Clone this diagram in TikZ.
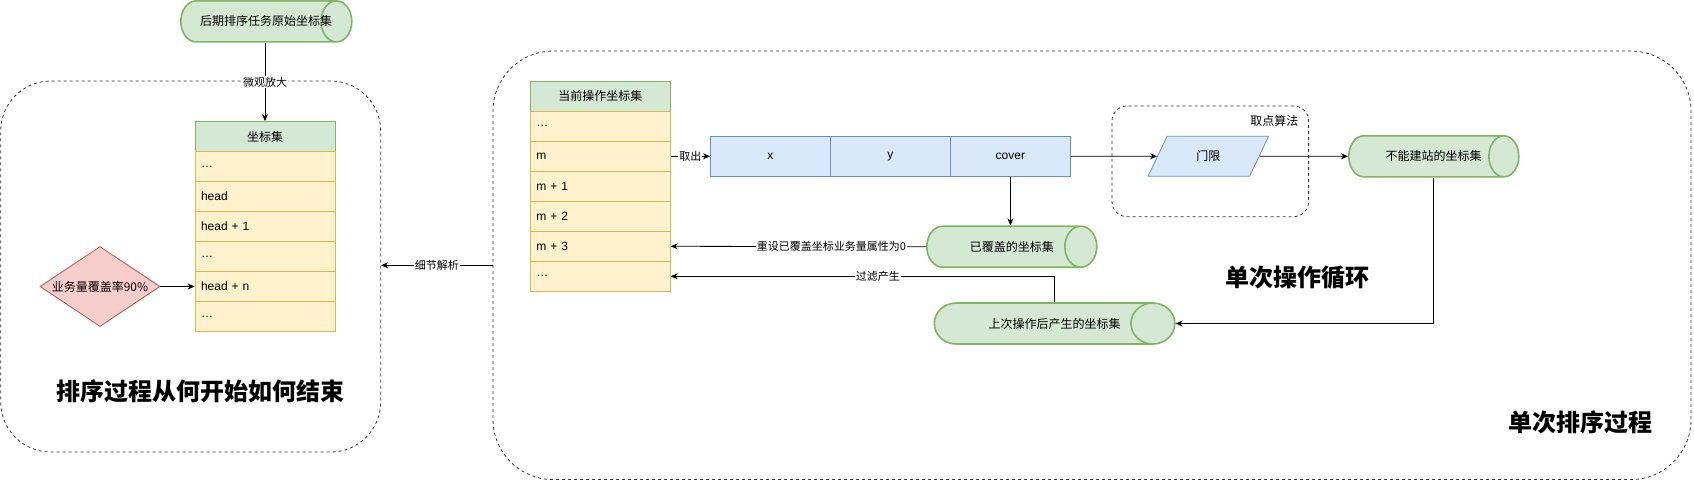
\documentclass[tikz,border=0pt]{standalone}
\usepackage{fontspec}
\setmainfont{Liberation Sans}
\newfontfamily\cjk{Noto Sans CJK SC}
\usepackage{tikz}
\usetikzlibrary{arrows.meta,calc,positioning,shapes.geometric}

\definecolor{gfill}{HTML}{D5E8D4}
\definecolor{gline}{HTML}{82B366}
\definecolor{yfill}{HTML}{FFF2CC}
\definecolor{yline}{HTML}{D6B656}
\definecolor{bfill}{HTML}{DAE8FC}
\definecolor{bline}{HTML}{6C8EBF}
\definecolor{rfill}{HTML}{F8CECC}
\definecolor{rline}{HTML}{B85450}

\newcommand{\fs}[1]{\fontsize{#1}{#1}\selectfont}

\begin{document}
\begin{tikzpicture}[x=1pt,y=-1pt,line width=0.8pt,
  group/.style={draw=black!80,dash pattern=on 3pt off 3pt,rounded corners=#1,inner sep=0pt},
  storetext/.style={font=\cjk\fs{12}},
  store/.style 2 args={cylinder,draw=gline,fill=gfill,line width=1.6pt,shape aspect=#1,inner xsep=0pt,
    text height=9pt,text depth=3pt,inner ysep=14.5pt,anchor=west,
    label={[storetext,xshift={20.5*#1}]center:#2}},
  head/.style={draw=gline,fill=gfill,minimum width=140,minimum height=30,inner sep=0pt,font=\cjk\fs{12}},
  cell/.style={draw=yline,fill=yfill,text width=128,inner xsep=6,inner ysep=0pt,minimum height=30,align=left,font=\fs{12}},
  field/.style={draw=bline,fill=bfill,minimum width=120,minimum height=40,inner sep=0pt,font=\fs{12}},
  tag/.style={fill=white,inner sep=1pt,font=\cjk\fs{11}},
  title/.style={font=\cjk\bfseries\fs{24}},
  arr/.style={-{Stealth[length=7pt,width=6pt]}}
]
\useasboundingbox (0,0) rectangle (1694,482);

% dashed containers
\node[group=50,minimum width=380,minimum height=371] (sortbox) at (190.7,266.5) {};
\node[group=60,minimum width=1198,minimum height=428.5] (passbox) at (1092,265.3) {};
\node[group=15,minimum width=196.6,minimum height=110.7] (pickbox) at (1210.3,161.3) {};
\node[anchor=east,font=\cjk\fs{12}] (picklbl) at (1302,121) {取点算法};

% source set
\node[store={0.75}{后期排序任务原始坐标集},storetext/.style={font=\cjk\fs{13}},minimum height=171] (src) at (180,21.4) {};

% zoomed-in set
\node[head] (lt) at (265,136.5) {坐标集};
\foreach \t [count=\i] in {\dots,head,head + 1,\dots,head + n,\dots}
  \node[cell] (lt\i) at (265,{136.5+30*\i}) {\t};
\node[diamond,shape aspect=1.5,draw=rline,fill=rfill,minimum width=120,minimum height=80,inner sep=0pt,font=\cjk\fs{12}] (rate) at (100,286.5) {业务量覆盖率90\%};

% titles
\node[title] (sorttitle) at (200,391) {排序过程从何开始如何结束};
\node[title] (looptitle) at (1297,278) {单次操作循环};
\node[title] (passtitle) at (1580,422) {单次排序过程};

% current set
\node[head] (rt) at (600.3,96.3) {当前操作坐标集};
\foreach \t [count=\i] in {\dots,m,m + 1,m + 2,m + 3,\dots}
  \node[cell] (rt\i) at (600.3,{96.3+30*\i}) {\t};

% record fields
\node[field] (fx) at (770.4,156.3) {x};
\node[field] (fy) at (890.4,156.3) {y};
\node[field] (fc) at (1010.4,156.3) {cover};

% threshold
\node[trapezium,trapezium left angle=63.4,trapezium right angle=116.6,trapezium stretches=true,
  draw=bline,fill=bfill,minimum width=120.6,minimum height=40,inner sep=0pt,font=\cjk\fs{12}] (gate) at (1208.3,156.3) {门限};

% result sets
\node[store={0.78}{已覆盖的坐标集},minimum height=170] (covered) at (926,246.7) {};
\node[store={0.73}{不能建站的坐标集},minimum height=170] (blocked) at (1348,156.3) {};
\node[store={1.07}{上次操作后产生的坐标集},minimum height=240.5] (prev) at (933.5,323.5) {};
\coordinate (blockmid) at ($(blocked.west)!0.5!(blocked.east)$);
\coordinate (prevmid) at ($(prev.west)!0.5!(prev.east)$);

% connectors
\draw[arr] (lt.north |- src.south) -- node[tag]{微观放大} (lt.north);
\draw[arr] (rate.east) -- (lt5.west);
\draw[arr] (passbox.west) -- node[tag]{细节解析} (passbox.west -| sortbox.east);
\draw[arr] (rt2.east) -- node[tag]{取出} (fx.west);
\draw[arr] (fc.east) -- (gate.west);
\draw[arr] (gate.east) -- (blocked.west);
\draw[arr] (fc.south) -- (fc.south |- covered.north);
\draw[arr] (covered.west) -- node[tag,pos=0.37]{重设已覆盖坐标业务量属性为0} (rt5.east);
\draw[arr] (prevmid |- prev.north) |- node[tag,pos=0.73]{过滤产生} (rt6.east);
\draw[arr] (blockmid |- blocked.south) |- (prev.east);
\end{tikzpicture}
\end{document}
